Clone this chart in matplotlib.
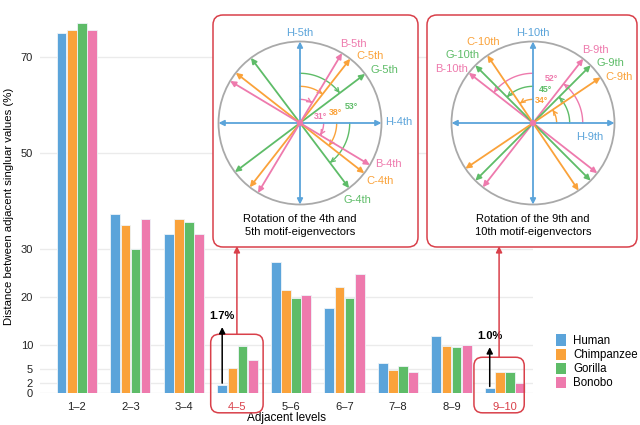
import numpy as np
import matplotlib
matplotlib.use('Agg')
import matplotlib.pyplot as plt
from matplotlib.patches import FancyBboxPatch, FancyArrowPatch, Circle, Patch
from matplotlib.path import Path

plt.rcParams['font.family'] = ['Liberation Sans', 'DejaVu Sans']

# 数据
levels = ['1–2', '2–3', '3–4', '4–5', '5–6', '6–7', '7–8', '8–9', '9–10']
human = [75.2, 37.4, 33.1, 1.7, 27.2, 17.7, 6.2, 11.8, 1.0]
chimpanzee = [75.7, 35.0, 36.2, 5.2, 21.5, 22.1, 4.7, 9.8, 4.3]
gorilla = [77.2, 30.1, 35.6, 9.8, 19.7, 19.7, 5.5, 9.6, 4.3]
bonobo = [75.7, 36.2, 33.1, 6.8, 20.3, 24.8, 4.3, 9.9, 2.0]
species = ['Human', 'Chimpanzee', 'Gorilla', 'Bonobo']
yticks = [0, 2, 5, 10, 20, 30, 50, 70]
highlight = ['4–5', '9–10']

# 旋转角度 (B, C, G)
rot_4_5 = {'B': 31, 'C': 38, 'G': 53}
rot_9_10 = {'B': 52, 'G': 45, 'C': 34}

colors = {'H': '#5BA4DA', 'C': '#FAA23A', 'G': '#5EBC68', 'B': '#EE7AAD'}
bar_colors = [colors['H'], colors['C'], colors['G'], colors['B']]
red = '#D9404A'

fig = plt.figure(figsize=(6.4, 4.25), dpi=100)
ax = fig.add_axes([0.0625, 0.076, 0.77, 0.879])

x = np.arange(len(levels))
w = 0.18
series = [human, chimpanzee, gorilla, bonobo]
for i, (vals, c) in enumerate(zip(series, bar_colors)):
    ax.bar(x + (i - 1.5) * 0.19, vals, width=w, color=c, edgecolor='#eef4f8',
           linewidth=0.6, zorder=3)

ax.set_xlim(-0.69, 8.52)
ax.set_ylim(0, 78)
ax.set_yticks(yticks)
ax.set_xticks(x)
ax.set_xticklabels(levels)
ax.tick_params(length=0, labelsize=8, colors='#222222')
ax.tick_params(axis='x', pad=7)
ax.tick_params(axis='y', pad=5)
for t in ax.get_xticklabels():
    if t.get_text() in highlight:
        t.set_color(red)
ax.grid(axis='y', color='#ebebeb', linewidth=1, zorder=0)
for s in ax.spines.values():
    s.set_visible(False)
ax.set_ylabel('Distance between adjacent singluar values (%)', fontsize=8.2, labelpad=5)
ax.set_xlabel('Adjacent levels', fontsize=8.5, labelpad=0)

# 红框 + 黑色箭头
for lab, rise, top_pad in [('4–5', 12.0, 2.4), ('9–10', 8.5, 3.1)]:
    k = levels.index(lab)
    grp_max = max(s[k] for s in series)
    x0, x1 = k - 0.5 + (0.0 if k == 3 else -0.08), k + 0.48 + (0.0 if k == 3 else -0.12)
    y0, y1 = -4.2, grp_max + top_pad
    box = FancyBboxPatch((x0, y0), x1 - x0, y1 - y0,
                         boxstyle='round,pad=0,rounding_size=0.16',
                         mutation_aspect=11.2, fill=False, edgecolor=red,
                         linewidth=1.1, clip_on=False, zorder=4)
    ax.add_patch(box)
    hx = k - 1.5 * 0.19
    ax.annotate('', xy=(hx, human[k] + rise), xytext=(hx, human[k] + 0.3),
                arrowprops=dict(arrowstyle='-|>', color='black', lw=1.1,
                                mutation_scale=9, shrinkA=0, shrinkB=0), zorder=5)
    ax.text(hx, human[k] + rise + 1.2, '%.1f%%' % human[k], ha='center', va='bottom',
            fontsize=8, fontweight='bold')
    # 红色箭头指向小图
    ax.annotate('', xy=((x0 + x1) / 2, 30.6), xytext=((x0 + x1) / 2, y1),
                arrowprops=dict(arrowstyle='-|>', color=red, lw=1.1,
                                mutation_scale=9, shrinkA=0, shrinkB=0),
                annotation_clip=False, zorder=4)

# 图例
handles = [Patch(facecolor=c, edgecolor='none', label=s) for s, c in zip(species, bar_colors)]
fig.legend(handles=handles, loc='upper left', bbox_to_anchor=(0.868, 0.213),
           frameon=False, fontsize=8.3, handlelength=0.95, handleheight=1.15,
           labelspacing=0.13, handletextpad=0.6, borderaxespad=0, borderpad=0)


def px_box(x0, y0, x1, y1):
    # 像素 (左上原点) -> 英寸
    return x0 / 100, (425 - y1) / 100, (x1 - x0) / 100, (y1 - y0) / 100


for bx in [(213, 15, 418, 247), (427, 15, 637, 247)]:
    l, b, ww, hh = px_box(*bx)
    fig.patches.append(FancyBboxPatch((l, b), ww, hh, boxstyle='round,pad=0,rounding_size=0.1',
                                      transform=fig.dpi_scale_trans, facecolor='white',
                                      edgecolor=red, linewidth=1.1, zorder=1))


def rotation_inset(cx, cy, rot, lab_pos, angle_pos, title, sign):
    R = 81.5
    lim = 1.25
    side = 2 * lim * R
    axi = fig.add_axes([(cx - side / 2) / 640, 1 - (cy + side / 2) / 425, side / 640, side / 425])
    axi.set_zorder(2)
    axi.set_xlim(-lim, lim)
    axi.set_ylim(-lim, lim)
    axi.set_aspect('equal')
    axi.axis('off')
    axi.add_patch(Circle((0, 0), 1.0, fill=False, edgecolor='#a9a9a9', lw=1.3))

    def dbl(ang, c):
        a = np.deg2rad(ang)
        p = (np.cos(a), np.sin(a))
        axi.add_patch(FancyArrowPatch((-p[0], -p[1]), p, arrowstyle='<|-|>', color=c,
                                      lw=1.3, mutation_scale=8, shrinkA=0, shrinkB=0))

    order = sorted(rot, key=lambda k: rot[k])
    radii = dict(zip(order, [0.29, 0.45, 0.61]))
    for key in ['G', 'C', 'B'] if sign < 0 else ['B', 'G', 'C']:
        th = rot[key]
        dbl(sign * th, colors[key])
        dbl(90 + sign * th, colors[key])
        for start in (0, 90):
            t = np.deg2rad(np.linspace(start, start + sign * th, 40))
            r = radii[key]
            verts = np.column_stack([r * np.cos(t), r * np.sin(t)])
            axi.add_patch(FancyArrowPatch(path=Path(verts), arrowstyle='->', color=colors[key],
                                          lw=1.0, mutation_scale=7))
    dbl(0, colors['H'])
    dbl(90, colors['H'])
    axi.add_patch(Circle((0, 0), 0.03, color=colors['B'], zorder=5))

    for name, (lx, ly, ha) in lab_pos.items():
        c = colors[name[0]]
        axi.text(lx, ly, name, color=c, fontsize=8, ha=ha, va='center', clip_on=False)
    for key, (lx, ly) in angle_pos.items():
        axi.text(lx, ly, '%d°' % rot[key], color=colors[key], fontsize=6.3,
                 fontweight='bold', ha='center', va='center')
    axi.text(0, -1.26, title, ha='center', va='center', fontsize=8, linespacing=1.3,
             clip_on=False)


rotation_inset(300, 123, rot_4_5,
               {'H-5th': (0, 1.11, 'center'), 'H-4th': (1.05, 0.01, 'left'),
                'B-5th': (0.49, 0.97, 'left'), 'C-5th': (0.69, 0.82, 'left'),
                'G-5th': (0.86, 0.65, 'left'), 'B-4th': (0.92, -0.5, 'left'),
                'C-4th': (0.82, -0.71, 'left'), 'G-4th': (0.53, -0.95, 'left')},
               {'B': (0.25, 0.08), 'C': (0.43, 0.13), 'G': (0.63, 0.2)},
               'Rotation of the 4th and\n5th motif-eigenvectors', -1)

rotation_inset(533, 123, rot_9_10,
               {'H-10th': (0, 1.11, 'center'), 'H-9th': (0.53, -0.17, 'left'),
                'B-9th': (0.6, 0.9, 'left'), 'G-9th': (0.78, 0.74, 'left'),
                'C-9th': (0.89, 0.57, 'left'), 'C-10th': (-0.41, 0.99, 'right'),
                'G-10th': (-0.66, 0.84, 'right'), 'B-10th': (-0.8, 0.66, 'right')},
               {'B': (0.22, 0.54), 'G': (0.15, 0.41), 'C': (0.1, 0.27)},
               'Rotation of the 9th and\n10th motif-eigenvectors', 1)

fig.savefig('out.png', dpi=100)
